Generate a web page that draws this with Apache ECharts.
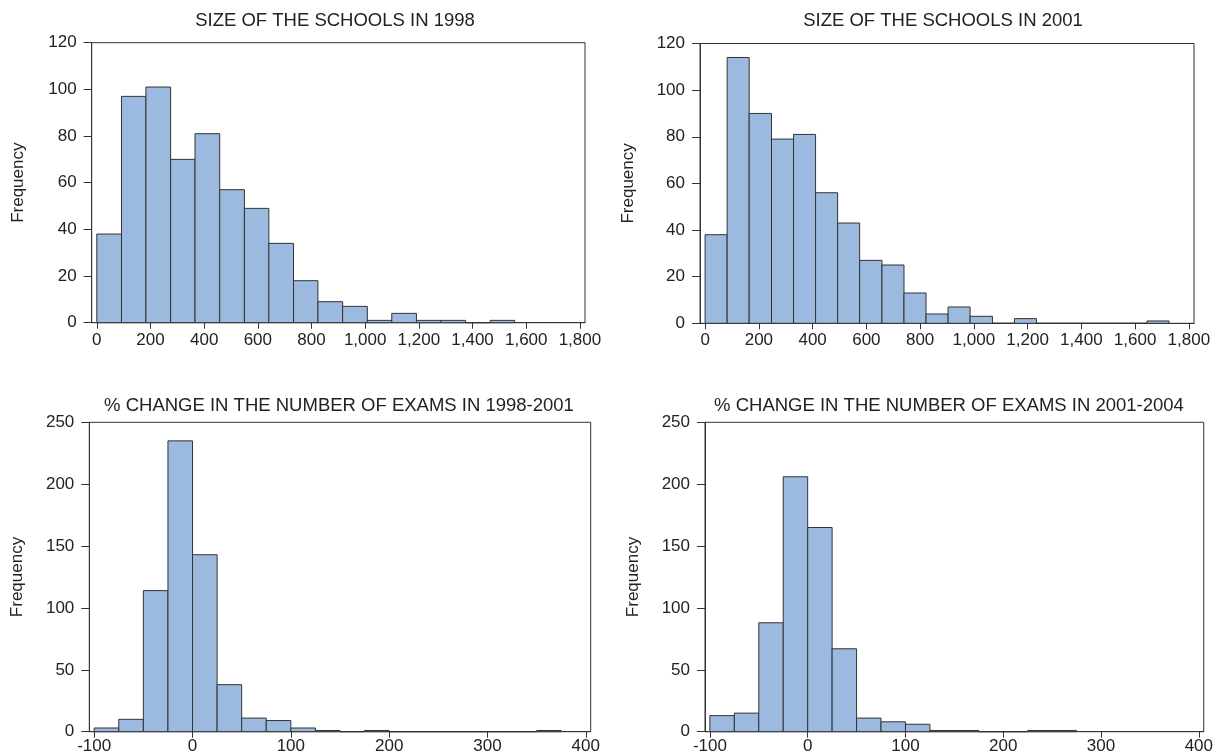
<!DOCTYPE html>
<html>
<head>
<meta charset="utf-8">
<script src="https://cdn.jsdelivr.net/npm/echarts@6/dist/echarts.min.js"></script>
<style>
  html, body { margin: 0; padding: 0; background: #ffffff; }
  #chart { width: 1216px; height: 755px; }
</style>
</head>
<body>
<div id="chart"></div>
<script>
// ---------------- data ----------------
const panelTitles = [
  'SIZE OF THE SCHOOLS IN 1998',
  'SIZE OF THE SCHOOLS IN 2001',
  '% CHANGE IN THE NUMBER OF EXAMS IN 1998-2001',
  '% CHANGE IN THE NUMBER OF EXAMS IN 2001-2004'
];
const yAxisLabel = 'Frequency';

// bin edges and frequencies
const size1998Edges  = [0, 92, 183, 275, 366, 458, 550, 641, 733, 824, 916, 1008, 1099, 1191, 1282, 1374, 1466, 1557];
const size1998Counts = [38, 97, 101, 70, 81, 57, 49, 34, 18, 9, 7, 1, 4, 1, 1, 0, 1];

const size2001Edges  = [0, 82, 164, 247, 329, 411, 493, 575, 658, 740, 822, 904, 986, 1069, 1151, 1233, 1315, 1397, 1480, 1562, 1644, 1726];
const size2001Counts = [38, 114, 90, 79, 81, 56, 43, 27, 25, 13, 4, 7, 3, 0, 2, 0, 0, 0, 0, 0, 1];

const change9801Edges  = [-100, -75, -50, -25, 0, 25, 50, 75, 100, 125, 150, 175, 200, 225, 250, 275, 300, 325, 350, 375];
const change9801Counts = [3, 10, 114, 235, 143, 38, 11, 9, 3, 1, 0, 1, 0, 0, 0, 0, 0, 0, 1];

const change0104Edges  = [-100, -75, -50, -25, 0, 25, 50, 75, 100, 125, 150, 175, 200, 225, 250, 275];
const change0104Counts = [13, 15, 88, 206, 165, 67, 11, 8, 6, 1, 1, 0, 0, 1, 1];

// tick labels
const sizeTicks   = [0, 200, 400, 600, 800, 1000, 1200, 1400, 1600, 1800];
const changeTicks = [-100, 0, 100, 200, 300, 400];
const sizeFreqMax = 120, sizeFreqStep = 20;
const changeFreqMax = 250, changeFreqStep = 50;

// ---------------- layout / style ----------------
const FONT = '"Liberation Sans", Arial, Helvetica, sans-serif';
const TEXT = '#222222';
const LINE = '#333333';
const FILL = '#9cb9e0';

const panels = [
  { edges: size1998Edges,   counts: size1998Counts,   ticks: sizeTicks,   xMin: -19,  xMax: 1819, yMax: sizeFreqMax,   yStep: sizeFreqStep,
    grid: { left: 91.7, top: 42.7, width: 493.3, height: 280 },   titleX: 335, titleY: 11,  labelMargin: 9,  nameGap: 65 },
  { edges: size2001Edges,   counts: size2001Counts,   ticks: sizeTicks,   xMin: -19,  xMax: 1819, yMax: sizeFreqMax,   yStep: sizeFreqStep,
    grid: { left: 700, top: 43.5, width: 494, height: 279.8 },    titleX: 943, titleY: 11,  labelMargin: 9,  nameGap: 63 },
  { edges: change9801Edges, counts: change9801Counts, ticks: changeTicks, xMin: -105, xMax: 405,  yMax: changeFreqMax, yStep: changeFreqStep,
    grid: { left: 89.3, top: 422.3, width: 501.4, height: 309.4 }, titleX: 339, titleY: 396, labelMargin: 6,  nameGap: 63 },
  { edges: change0104Edges, counts: change0104Counts, ticks: changeTicks, xMin: -105, xMax: 405,  yMax: changeFreqMax, yStep: changeFreqStep,
    grid: { left: 705, top: 422.3, width: 500.7, height: 309.4 },  titleX: 949, titleY: 396, labelMargin: 6,  nameGap: 63 }
];

function fmt(v) {
  const s = Math.abs(v).toString().replace(/\B(?=(\d{3})+(?!\d))/g, ',');
  return (v < 0 ? '-' : '') + s;
}

function renderBin(params, api) {
  const top = api.coord([api.value(0), api.value(2)]);
  const base = api.coord([api.value(1), 0]);
  return {
    type: 'rect',
    shape: { x: top[0], y: top[1], width: base[0] - top[0], height: base[1] - top[1] },
    style: { fill: FILL, stroke: LINE, lineWidth: 1 }
  };
}

const option = {
  backgroundColor: '#ffffff',
  animation: false,
  title: panels.map((p, i) => ({
    text: panelTitles[i],
    left: p.titleX,
    top: p.titleY,
    textAlign: 'center',
    padding: 0,
    textStyle: { fontFamily: FONT, fontSize: 18.5, fontWeight: 'normal', color: TEXT }
  })),
  grid: panels.map(p => Object.assign({ show: true, borderColor: LINE, borderWidth: 1, backgroundColor: 'transparent', containLabel: false }, p.grid)),
  xAxis: panels.map((p, i) => ({
    type: 'value',
    gridIndex: i,
    min: p.xMin,
    max: p.xMax,
    splitLine: { show: false },
    axisLine: { show: true, onZero: false, lineStyle: { color: LINE, width: 1 } },
    axisTick: { show: true, inside: false, length: 6, customValues: p.ticks, lineStyle: { color: LINE, width: 1 } },
    axisLabel: { customValues: p.ticks, formatter: fmt, fontFamily: FONT, fontSize: 17, color: TEXT, margin: p.labelMargin, hideOverlap: false, showMinLabel: true, showMaxLabel: true }
  })),
  yAxis: panels.map((p, i) => ({
    type: 'value',
    gridIndex: i,
    min: 0,
    max: p.yMax,
    interval: p.yStep,
    name: yAxisLabel,
    nameLocation: 'middle',
    nameGap: p.nameGap,
    nameRotate: 90,
    nameTextStyle: { fontFamily: FONT, fontSize: 17, color: TEXT },
    splitLine: { show: false },
    axisLine: { show: true, onZero: false, lineStyle: { color: LINE, width: 1 } },
    axisTick: { show: true, inside: false, length: 8, lineStyle: { color: LINE, width: 1 } },
    axisLabel: { fontFamily: FONT, fontSize: 17, color: TEXT, margin: 15 }
  })),
  series: panels.map((p, i) => ({
    type: 'custom',
    xAxisIndex: i,
    yAxisIndex: i,
    renderItem: renderBin,
    encode: { x: [0, 1], y: 2 },
    data: p.counts.map((c, k) => [p.edges[k], p.edges[k + 1], c]),
    silent: true
  }))
};

const chart = echarts.init(document.getElementById('chart'), null, { renderer: 'canvas' });
chart.setOption(option);
</script>
</body>
</html>
